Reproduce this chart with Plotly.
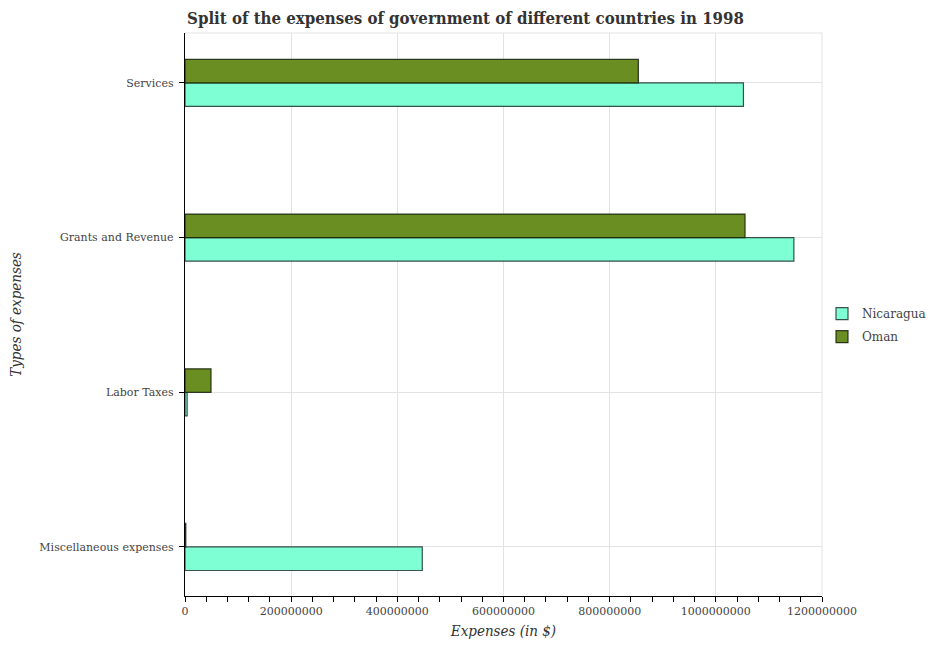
import plotly.graph_objects as go

categories = ["Miscellaneous expenses", "Labor Taxes", "Grants and Revenue", "Services"]
nicaragua = [4.47e8, 4.0e6, 1.147e9, 1.052e9]
oman = [1.5e6, 4.9e7, 1.055e9, 8.54e8]
x_ticks = [0, 2e8, 4e8, 6e8, 8e8, 1e9, 1.2e9]

fig = go.Figure()
fig.add_trace(go.Bar(
    y=categories, x=nicaragua, name="Nicaragua", orientation="h", legendgroup="a",
    marker=dict(color="#7FFFD4", line=dict(color="rgba(30,50,40,0.85)", width=1.2)),
))
fig.add_trace(go.Bar(
    y=categories, x=oman, name="Oman", orientation="h", legendgroup="b",
    marker=dict(color="#6B8E23", line=dict(color="rgba(20,30,10,0.85)", width=1.2)),
))

serif = "DejaVu Serif"
fig.update_layout(
    width=931, height=650,
    margin=dict(l=185, r=109, t=33, b=54, autoexpand=False),
    paper_bgcolor="white", plot_bgcolor="white",
    barmode="group", bargap=0.696, bargroupgap=0,
    title=dict(text="<b>Split of the expenses of government of different countries in 1998</b>",
               x=0.5, xanchor="center", y=0.972, yanchor="middle",
               font=dict(family="DejaVu Serif Condensed, " + serif, size=16.7, color="#333333")),
    font=dict(family=serif, size=11, color="#444444"),
    legend=dict(x=1.0, xanchor="left", y=0.481, yanchor="middle",
                font=dict(family=serif, size=12, color="#444444"),
                bgcolor="rgba(0,0,0,0)", traceorder="grouped", tracegroupgap=4),
    xaxis=dict(
        range=[0, 1.2e9], tickvals=x_ticks, tickformat="d", automargin=False,
        showgrid=True, gridcolor="#e3e3e3", gridwidth=1,
        showline=True, linecolor="black", linewidth=1.3,
        ticks="outside", ticklen=5, tickcolor="black",
        minor=dict(dtick=4e7, ticks="outside", ticklen=5, tickcolor="black", showgrid=False),
        zeroline=False,
        tickfont=dict(family=serif, size=11, color="#444444"),
        title=dict(text="<i>Expenses (in $)</i>", standoff=8,
                   font=dict(family="DejaVu Serif Condensed, " + serif, size=15, color="#333333")),
    ),
    yaxis=dict(
        categoryorder="array", categoryarray=categories, automargin=False,
        range=[-0.317, 3.323],
        showgrid=True, gridcolor="#e3e3e3", gridwidth=1,
        showline=True, linecolor="black", linewidth=1.3,
        ticks="outside", ticklen=5, tickcolor="black", ticklabelstandoff=3,
        tickfont=dict(family=serif, size=11, color="#444444"),
        title=dict(text="<i>Types of expenses</i>", standoff=14,
                   font=dict(family="DejaVu Serif Condensed, " + serif, size=15, color="#333333")),
    ),
    shapes=[
        dict(type="line", xref="paper", yref="paper", x0=0, x1=1, y0=1, y1=1,
             line=dict(color="#e3e3e3", width=1), layer="below"),
        dict(type="line", xref="paper", yref="paper", x0=1, x1=1, y0=0, y1=1,
             line=dict(color="#e3e3e3", width=1), layer="below"),
    ],
)

fig.write_html("out.html", config={"displayModeBar": False},
               post_script="document.body.style.margin='0';document.body.style.overflow='hidden';")
